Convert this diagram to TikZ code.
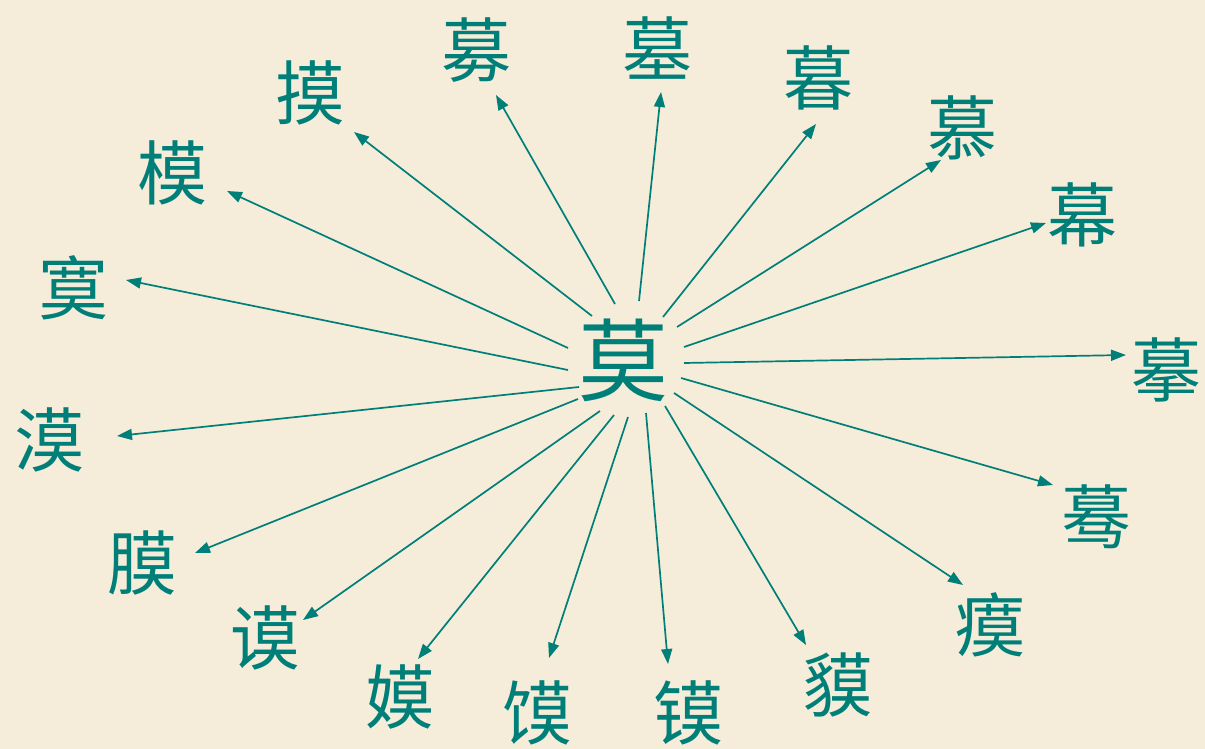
\documentclass[tikz,border=0pt]{standalone}
\usepackage{fontspec}
\newfontfamily\cjk{Noto Sans CJK SC}
\usetikzlibrary{arrows.meta,calc}
\definecolor{tealc}{HTML}{007F79}
\definecolor{bgc}{HTML}{F5EDDA}
\begin{document}
\begin{tikzpicture}[x=1pt,y=-1pt,
  ch/.style={text=tealc, font=\cjk\fontsize{70}{70}\selectfont, inner sep=0pt},
  hub/.style={text=tealc, font=\cjk\fontsize{90}{90}\selectfont, inner sep=0pt},
  arr/.style={draw=tealc, line width=1.7pt, -{Triangle[length=15pt,width=11pt]}}]
\fill[bgc] (0,0) rectangle (1205,749);
\useasboundingbox (0,0) rectangle (1205,749);
\node[hub] (c) at (623,360) {莫};
\node[ch] (t1) at (476,50) {募};
\node[ch] (t2) at (657,48) {墓};
\node[ch] (t3) at (818,78) {暮};
\node[ch] (t4) at (962,128) {慕};
\node[ch] (t5) at (1082,215) {幕};
\node[ch] (t6) at (1166,370) {摹};
\node[ch] (t7) at (1096,517) {蓦};
\node[ch] (t8) at (990,625) {瘼};
\node[ch] (t9) at (838,685) {貘};
\node[ch] (t10) at (688,713) {镆};
\node[ch] (t11) at (537,713) {馍};
\node[ch] (t12) at (400,697) {嫫};
\node[ch] (t13) at (265,638) {谟};
\node[ch] (t14) at (142,563) {膜};
\node[ch] (t15) at (49,440) {漠};
\node[ch] (t16) at (73,288) {寞};
\node[ch] (t17) at (172,173) {模};
\node[ch] (t18) at (310,93) {摸};
\draw[arr] ($(c.center)+(-8,-56)$) -- ($(t1.center)+(20,45)$);
\draw[arr] ($(c.center)+(16,-59)$) -- ($(t2.center)+(4,44)$);
\draw[arr] ($(c.center)+(40,-43)$) -- ($(t3.center)+(-2,46)$);
\draw[arr] ($(c.center)+(54,-33)$) -- ($(t4.center)+(-21,32)$);
\draw[arr] ($(c.center)+(61,-13)$) -- ($(t5.center)+(-36,8)$);
\draw[arr] ($(c.center)+(61,3)$) -- ($(t6.center)+(-40,-15)$);
\draw[arr] ($(c.center)+(58,18)$) -- ($(t7.center)+(-43,-32)$);
\draw[arr] ($(c.center)+(51,33)$) -- ($(t8.center)+(-27,-40)$);
\draw[arr] ($(c.center)+(42,46)$) -- ($(t9.center)+(-32,-40)$);
\draw[arr] ($(c.center)+(23,53)$) -- ($(t10.center)+(-20,-49)$);
\draw[arr] ($(c.center)+(5,57)$) -- ($(t11.center)+(12,-55)$);
\draw[arr] ($(c.center)+(-9,55)$) -- ($(t12.center)+(18,-38)$);
\draw[arr] ($(c.center)+(-23,51)$) -- ($(t13.center)+(38,-18)$);
\draw[arr] ($(c.center)+(-45,39)$) -- ($(t14.center)+(53,-10)$);
\draw[arr] ($(c.center)+(-44,27)$) -- ($(t15.center)+(68,-4)$);
\draw[arr] ($(c.center)+(-55,10)$) -- ($(t16.center)+(53,-8)$);
\draw[arr] ($(c.center)+(-55,-12)$) -- ($(t17.center)+(55,18)$);
\draw[arr] ($(c.center)+(-31,-44)$) -- ($(t18.center)+(44,39)$);
\end{tikzpicture}
\end{document}
